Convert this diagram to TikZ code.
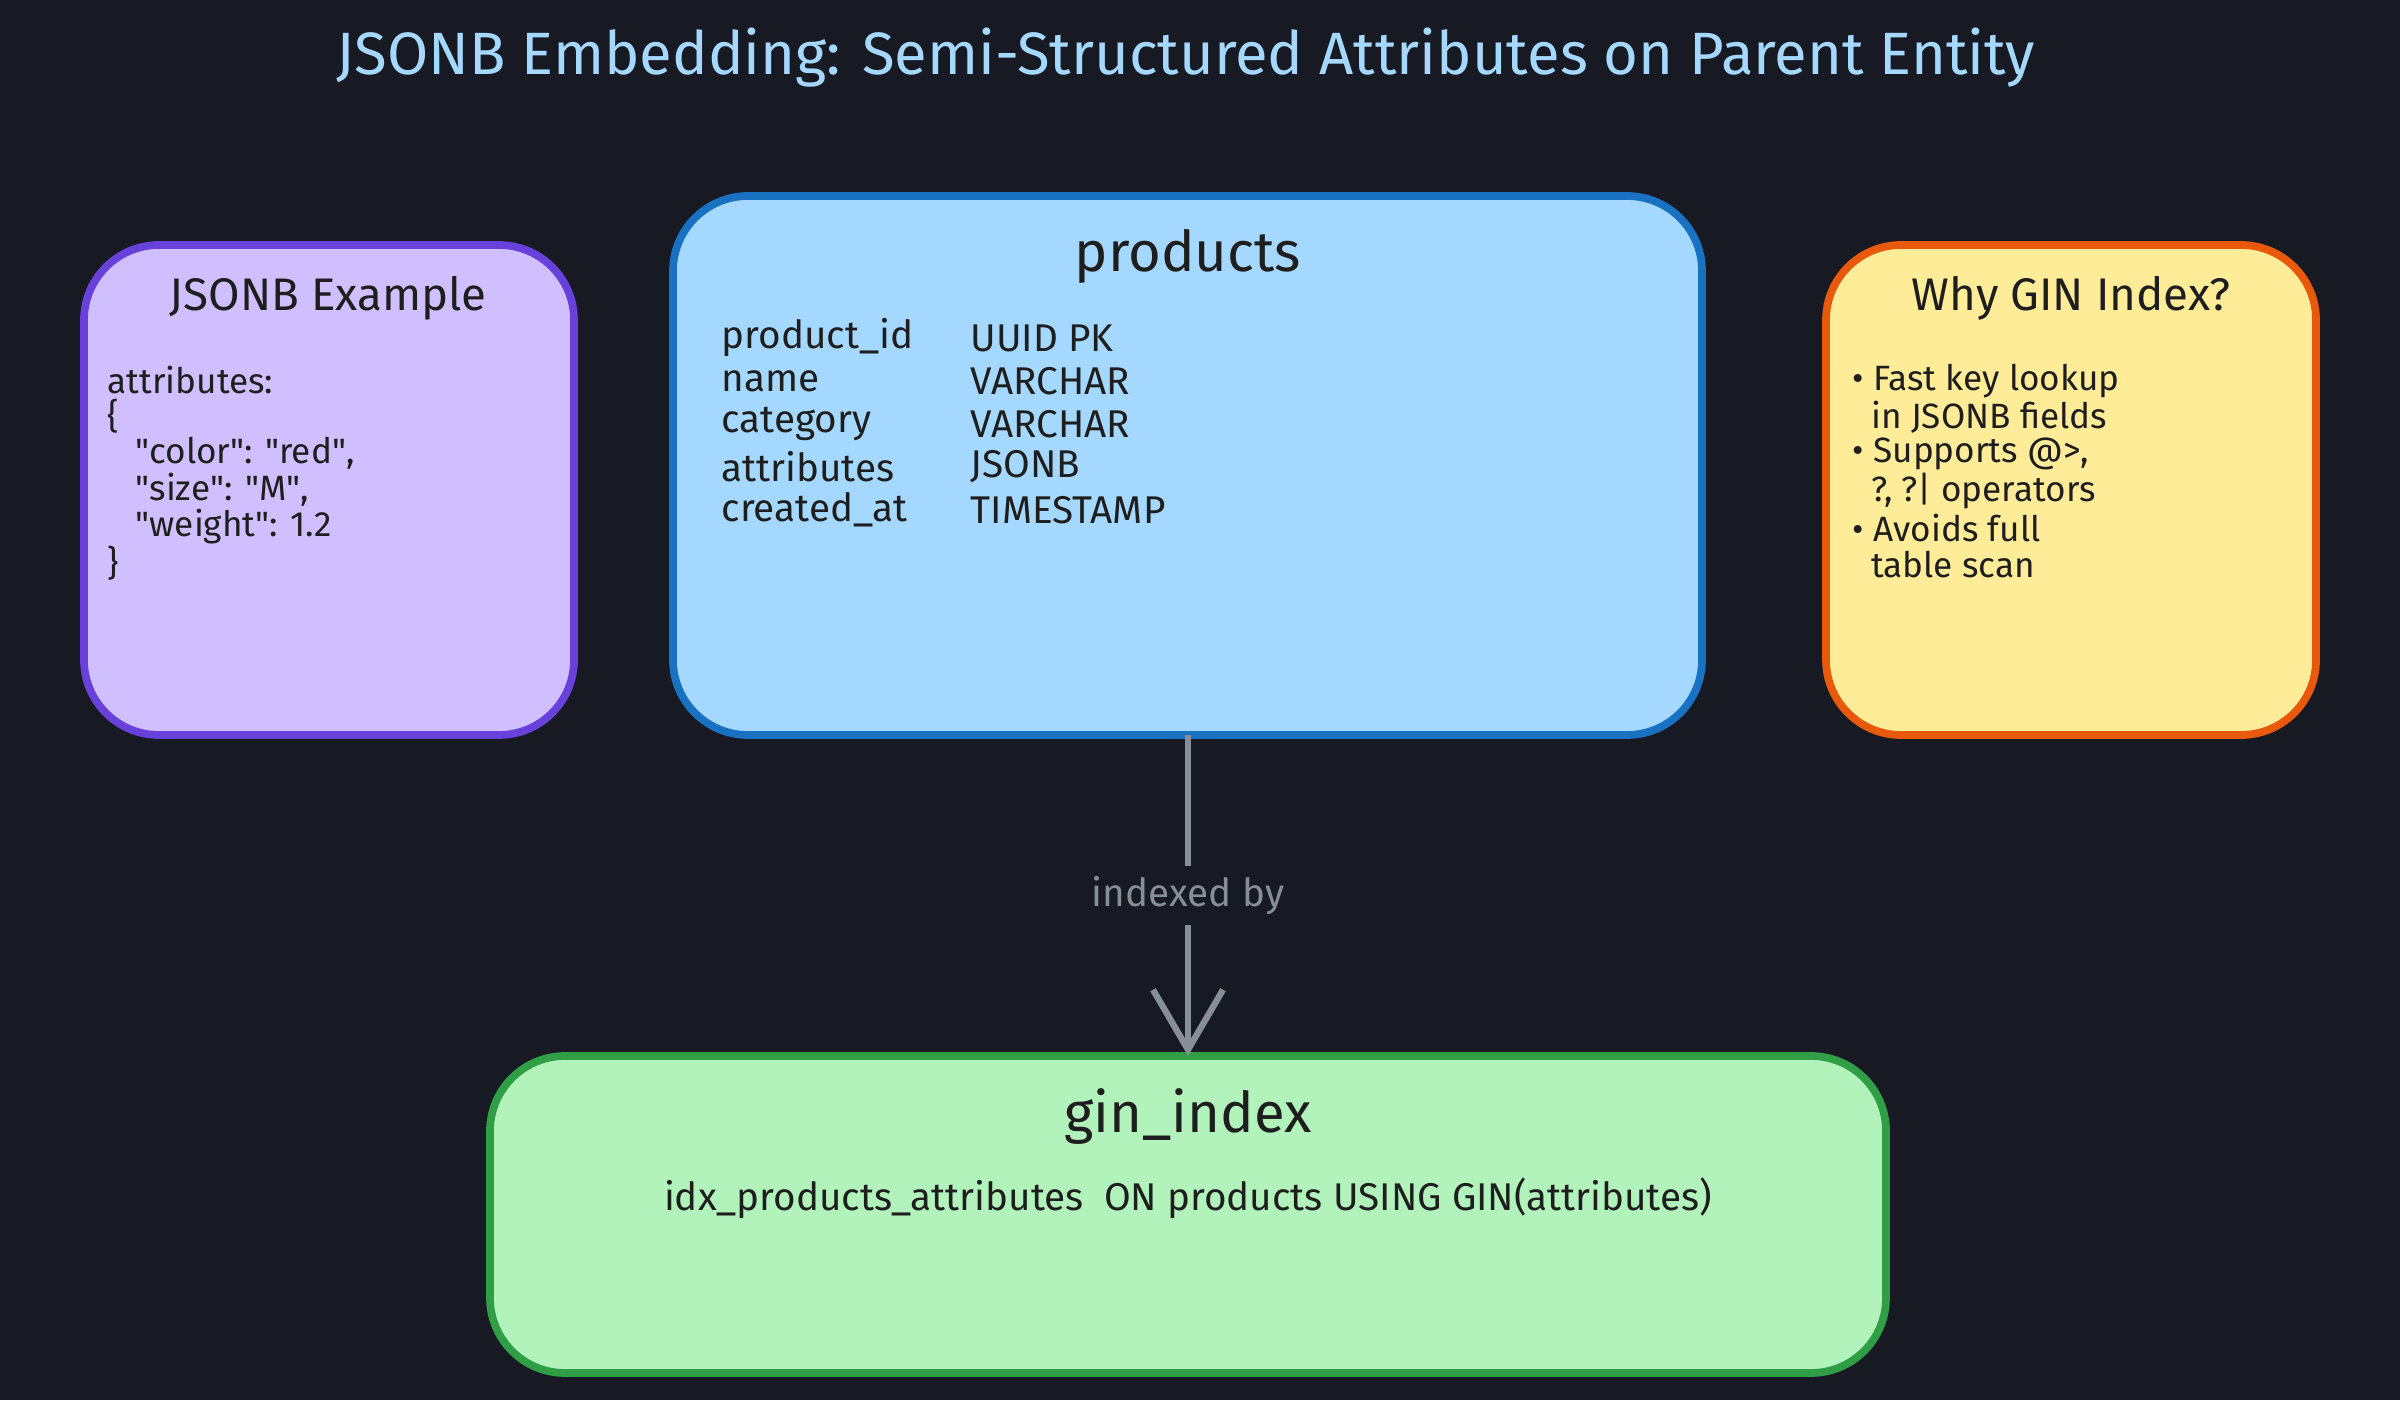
\documentclass[tikz,border=0pt]{standalone}
\usepackage{fontspec}
\setmainfont{Fira Sans}
\newfontfamily\qfont{Fira Sans}
\usetikzlibrary{arrows.meta}
\newcommand{\dq}{{\qfont\symbol{34}}}
\definecolor{bg}{HTML}{171923}
\definecolor{pfill}{HTML}{D0BFFF}\definecolor{pdraw}{HTML}{6741D9}
\definecolor{bfill}{HTML}{A5D8FF}\definecolor{bdraw}{HTML}{1971C2}
\definecolor{yfill}{HTML}{FFEC99}\definecolor{ydraw}{HTML}{E8590C}
\definecolor{gfill}{HTML}{B2F2BB}\definecolor{gdraw}{HTML}{2F9E44}
\definecolor{ink}{HTML}{1E1E1E}\definecolor{arr}{HTML}{868E96}
\tikzset{
 box/.style={rounded corners=0.75cm, line width=2.2pt},
 hd/.style={text=ink, font=\fontsize{16}{19}\selectfont\mdseries},
 txt/.style={text=ink, font=\fontsize{11}{13}\selectfont, anchor=west, inner sep=0pt},
}
\begin{document}
\begin{tikzpicture}
\fill[bg] (0,0) rectangle (24,14);
\useasboundingbox (0,0) rectangle (24,14);
\node[text=bfill, font=\fontsize{17}{21}\selectfont] (title) at (11.86,13.42) {JSONB Embedding: Semi-Structured Attributes on Parent Entity};
% purple
\draw[box, fill=pfill, draw=pdraw] (0.84,6.65) rectangle (5.74,11.55);
\node[hd, font=\fontsize{13}{16}\selectfont] (jh) at (3.28,11.02) {JSONB Example};
\foreach \t [count=\i from 0] in {attributes:, \{, \ \ \ \dq color\dq: \dq red\dq{,}, \ \ \ \dq size\dq: \dq M\dq{,}, \ \ \ \dq weight\dq: 1.2, \}}
  \node[txt, font=\fontsize{10}{12}\selectfont] (j\i) at (1.07,10.20-0.367*\i) {\t};
% products
\draw[box, fill=bfill, draw=bdraw] (6.73,6.65) rectangle (17.02,12.04);
\node[hd] (ph) at (11.88,11.44) {products};
\foreach \a/\b [count=\i from 0] in {product\_id/UUID PK, name/VARCHAR, category/VARCHAR, attributes/JSONB, created\_at/TIMESTAMP}{
  \node[txt] (pa\i) at (7.21,10.62-0.43*\i) {\a};
  \node[txt] (pb\i) at (9.70,10.62-0.43*\i) {\b};}
% yellow
\draw[box, fill=yfill, draw=ydraw] (18.26,6.65) rectangle (23.16,11.55);
\node[hd, font=\fontsize{13}{16}\selectfont] (yh) at (20.71,11.02) {Why GIN Index?};
\foreach \t [count=\i from 0] in {• Fast key lookup, \ \ in JSONB fields, • Supports @>{,}, \ \ ?{,} ?| operators, • Avoids full, \ \ table scan}
  \node[txt, font=\fontsize{10}{12}\selectfont] (y\i) at (18.52,10.19-0.367*\i) {\t};
% green
\draw[box, fill=gfill, draw=gdraw] (4.90,0.27) rectangle (18.86,3.44);
\node[hd] (gh) at (11.88,2.83) {gin\_index};
\node[text=ink, font=\fontsize{11}{13}\selectfont] (gt) at (11.88,2.02) {idx\_products\_attributes\ \ ON products USING GIN(attributes)};
% arrow
\coordinate (a1) at (11.88,6.65);
\coordinate (a2) at (11.88,3.44);
\draw[arr, line width=1.8pt, -{Straight Barb[length=0.6cm,width=0.7cm]}] (a1) -- node[fill=bg, text=arr, font=\fontsize{11}{13}\selectfont, inner sep=3pt] (lbl) {indexed by} (a2);
\end{tikzpicture}
\end{document}
